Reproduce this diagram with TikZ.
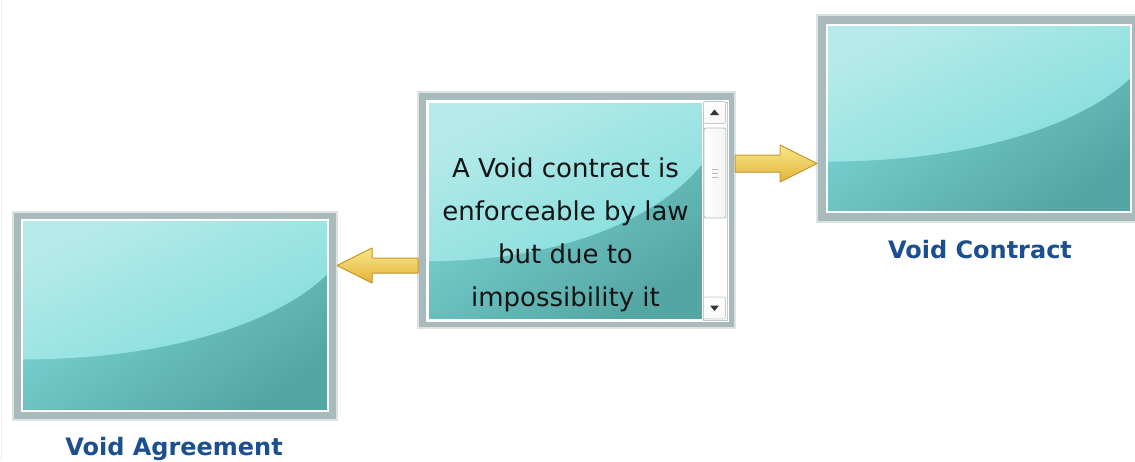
\documentclass[tikz,border=0pt]{standalone}
\usepackage{fontspec}
\setmainfont{DejaVu Sans}
\usetikzlibrary{calc}

\definecolor{framerim}{HTML}{DCE3E3}
\definecolor{frameband}{HTML}{A8BABC}
\definecolor{tealtop}{HTML}{B6EAEA}
\definecolor{tealmid}{HTML}{78DBDA}
\definecolor{teallow}{HTML}{80DCDB}
\definecolor{tealcore}{HTML}{6FCFCE}
\definecolor{tealdark}{HTML}{54A6A4}
\definecolor{goldlight}{HTML}{F8E88A}
\definecolor{golddark}{HTML}{E2B43A}
\definecolor{goldedge}{HTML}{C99A2E}
\definecolor{captionblue}{HTML}{1C4F8F}
\definecolor{scrolledge}{HTML}{C4CACA}
\definecolor{thumbedge}{HTML}{B4BCBC}

\tikzset{
  frame/.style={draw=framerim, line width=1.6pt, fill=frameband,
    inner sep=0pt, outer sep=0pt},
  teal panel/.style={draw=white, line width=1.4pt, inner sep=0pt, outer sep=0pt,
    top color=teallow, middle color=tealcore, bottom color=tealdark, shading angle=35,
    path picture={
      \shade[top color=tealtop, bottom color=tealmid, shading angle=25]
        let \p1=(path picture bounding box.north west),
            \p2=(path picture bounding box.south east) in
        (\x1,\y1) -- (\x2,\y1) -- (\x2,{\y1+0.28*(\y2-\y1)})
        .. controls ({\x1+0.85*(\x2-\x1)},{\y1+0.52*(\y2-\y1)})
               and ({\x1+0.5*(\x2-\x1)},{\y1+0.73*(\y2-\y1)})
        .. (\x1,{\y1+0.73*(\y2-\y1)}) -- cycle;
    }},
  scroll bg/.style={fill=white, draw=scrolledge, line width=0.6pt,
    inner sep=0pt, outer sep=0pt},
  scroll button/.style={draw=scrolledge, line width=0.7pt, rounded corners=2pt,
    top color=white, bottom color=gray!6, inner sep=0pt, outer sep=0pt,
    minimum width=22pt, minimum height=22pt},
  scroll thumb/.style={draw=thumbedge, line width=0.8pt, rounded corners=2pt,
    left color=white, right color=gray!10, inner sep=0pt, outer sep=0pt},
  grip/.style={draw=gray!55, line width=0.8pt},
  goldarrow/.style={draw=goldedge, line width=1pt, line join=round,
    top color=goldlight, bottom color=golddark},
  body text/.style={align=center, text=black!92,
    font=\fontsize{26}{43}\selectfont, inner sep=0pt},
  caption/.style={text=captionblue, font=\fontsize{24}{28}\selectfont\bfseries,
    inner sep=0pt, anchor=base}
}

% block arrow: tail, tip, half shaft, half head, head length, direction
\newcommand\goldarrow[6]{%
  \filldraw[goldarrow]
    ($(#1)+(0,-#3)$) -- ($(#2)+({-(#6)*(#5)},-#3)$) -- ($(#2)+({-(#6)*(#5)},-#4)$)
    -- (#2) -- ($(#2)+({-(#6)*(#5)},#4)$) -- ($(#2)+({-(#6)*(#5)},#3)$)
    -- ($(#1)+(0,#3)$) -- cycle;
}

\begin{document}
\begin{tikzpicture}[x=1pt,y=-1pt]
\useasboundingbox (0,0) rectangle (1135,461);
\fill[white] (0,0) rectangle (1135,461);
\draw[gray!12, line width=1pt] (1,0) -- (1,461);

% left panel
\node[frame, minimum width=324pt, minimum height=208pt] (lframe) at (175,316) {};
\node[teal panel, minimum width=306pt, minimum height=191pt] (lbox) at (175,315.5) {};
\node[caption] (lcap) at (174,455) {Void Agreement};

% right panel
\node[frame, minimum width=322pt, minimum height=207pt] (rframe) at (978,118.5) {};
\node[teal panel, minimum width=304pt, minimum height=187pt] (rbox) at (979,118.5) {};
\node[caption] (rcap) at (980,258) {Void Contract};

% centre panel with its text and scroll bar
\node[frame, minimum width=317pt, minimum height=236pt] (mframe) at (576.5,210) {};
\node[fill=white, minimum width=303pt, minimum height=222pt, inner sep=0pt] (mwhite) at (577.5,211) {};
\node[teal panel, minimum width=275pt, minimum height=218pt] (mbox) at (565.5,211) {};
\node[scroll bg, minimum width=24pt, minimum height=218pt] (sbar) at (715,211) {};
\node[scroll button] (upbtn) at (714.5,112.5) {};
\fill[black!80] ($(upbtn.center)+(-4.5,2.5)$) -- ($(upbtn.center)+(4.5,2.5)$)
  -- ($(upbtn.center)+(0,-3)$) -- cycle;
\node[scroll thumb, minimum width=22pt, minimum height=90pt] (thumb) at (715,173) {};
\foreach \dy in {-4,0,4}
  \draw[grip] ($(thumb.center)+(-3,\dy)$) -- ($(thumb.center)+(3,\dy)$);
\node[scroll button] (dnbtn) at (714.5,308) {};
\fill[black!80] ($(dnbtn.center)+(-4.5,-2.5)$) -- ($(dnbtn.center)+(4.5,-2.5)$)
  -- ($(dnbtn.center)+(0,3)$) -- cycle;
\node[body text] (mtext) at (565.5,234.5)
  {A Void contract is\\enforceable by law\\but due to\\impossibility it};

% connectors
\coordinate (ra) at ($(mframe.north east)+(0,71.5)$);
\coordinate (rb) at (rframe.west |- ra);
\goldarrow{ra}{rb}{8.5}{18.5}{37}{1}
\coordinate (la) at ($(mframe.north west)+(0,173.5)$);
\coordinate (lb) at (lframe.east |- la);
\goldarrow{la}{lb}{7.5}{17.5}{35}{-1}
\end{tikzpicture}
\end{document}
